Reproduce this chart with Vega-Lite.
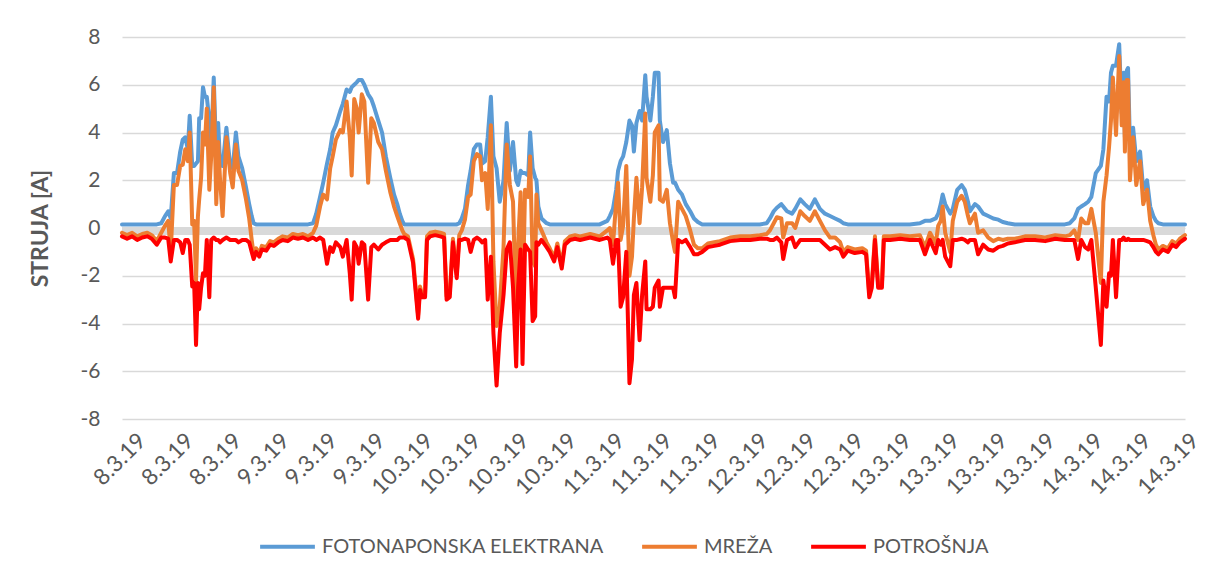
{
"$schema": "https://vega.github.io/schema/vega-lite/v6.json",
"width": 1063, "height": 382,
"autosize": {"type": "none"},
"padding": {"left": 122, "top": 37, "right": 44, "bottom": 160},
"background": "white",
"config": {"view": {"stroke": null}, "font": "Lato",
 "axisY": {"grid": true, "gridColor": "#d9d9d9", "gridWidth": 1.3, "domain": false, "ticks": false, "labelFontSize": 21, "labelColor": "#595959", "labelPadding": 22},
 "axisX": {"grid": false, "domain": false, "ticks": false, "labelFontSize": 22.5, "labelColor": "#595959", "labelAngle": -45, "labelPadding": 10, "labelOffset": 12, "labelOverlap": false, "labelFlush": false, "labelBound": false}
},
"datasets": {"d": [
{"h":0,"fe":0.15,"mr":-0.2,"po":-0.35},
{"h":0.8,"fe":0.15,"mr":-0.3,"po":-0.45},
{"h":1.6,"fe":0.15,"mr":-0.2,"po":-0.35},
{"h":2.4,"fe":0.15,"mr":-0.35,"po":-0.5},
{"h":3.2,"fe":0.15,"mr":-0.25,"po":-0.4},
{"h":4.0,"fe":0.15,"mr":-0.2,"po":-0.35},
{"h":4.7,"fe":0.15,"mr":-0.3,"po":-0.45},
{"h":5.5,"fe":0.15,"mr":-0.55,"po":-0.7},
{"h":6.2,"fe":0.2,"mr":-0.2,"po":-0.4},
{"h":6.8,"fe":0.5,"mr":0.1,"po":-0.4},
{"h":7.3,"fe":0.7,"mr":0.3,"po":-0.45},
{"h":7.7,"fe":0.4,"mr":-1.0,"po":-1.4},
{"h":8.2,"fe":2.3,"mr":1.8,"po":-0.5},
{"h":8.7,"fe":2.3,"mr":1.8,"po":-0.5},
{"h":9.2,"fe":3.2,"mr":2.6,"po":-0.6},
{"h":9.6,"fe":3.7,"mr":2.65,"po":-1.05},
{"h":10.0,"fe":3.8,"mr":3.3,"po":-0.5},
{"h":10.4,"fe":3.3,"mr":2.8,"po":-0.5},
{"h":10.7,"fe":4.7,"mr":4.0,"po":-0.7},
{"h":11.1,"fe":2.6,"mr":0.15,"po":-2.45},
{"h":11.4,"fe":2.6,"mr":0.3,"po":-2.3},
{"h":11.7,"fe":2.7,"mr":-2.2,"po":-4.9},
{"h":12.0,"fe":2.8,"mr":0.5,"po":-2.3},
{"h":12.2,"fe":4.6,"mr":1.2,"po":-3.4},
{"h":12.5,"fe":4.6,"mr":2.1,"po":-2.5},
{"h":12.8,"fe":5.9,"mr":4.0,"po":-1.9},
{"h":13.1,"fe":5.5,"mr":3.5,"po":-2.0},
{"h":13.4,"fe":5.5,"mr":5.0,"po":-0.5},
{"h":13.8,"fe":4.5,"mr":1.6,"po":-2.9},
{"h":14.1,"fe":3.5,"mr":3.0,"po":-0.5},
{"h":14.5,"fe":6.3,"mr":5.9,"po":-0.4},
{"h":14.9,"fe":2.9,"mr":1.0,"po":-0.5},
{"h":15.2,"fe":4.4,"mr":3.6,"po":-0.5},
{"h":15.5,"fe":2.7,"mr":2.0,"po":-0.6},
{"h":15.9,"fe":2.6,"mr":0.5,"po":-0.5},
{"h":16.5,"fe":4.2,"mr":3.8,"po":-0.4},
{"h":17.1,"fe":2.6,"mr":2.3,"po":-0.5},
{"h":17.5,"fe":2.5,"mr":1.7,"po":-0.5},
{"h":18.0,"fe":4.0,"mr":3.5,"po":-0.5},
{"h":18.4,"fe":3.0,"mr":2.4,"po":-0.6},
{"h":19.0,"fe":2.5,"mr":2.0,"po":-0.5},
{"h":19.6,"fe":1.7,"mr":1.2,"po":-0.5},
{"h":20.1,"fe":1.0,"mr":0.4,"po":-0.6},
{"h":20.5,"fe":0.5,"mr":-0.5,"po":-1.0},
{"h":20.8,"fe":0.2,"mr":-1.1,"po":-1.3},
{"h":21.2,"fe":0.15,"mr":-0.85,"po":-1.0},
{"h":21.7,"fe":0.15,"mr":-1.05,"po":-1.2},
{"h":22.1,"fe":0.15,"mr":-0.75,"po":-0.9},
{"h":22.8,"fe":0.15,"mr":-0.8,"po":-0.95},
{"h":23.4,"fe":0.15,"mr":-0.55,"po":-0.7},
{"h":24.0,"fe":0.15,"mr":-0.6,"po":-0.75},
{"h":24.7,"fe":0.15,"mr":-0.45,"po":-0.6},
{"h":25.4,"fe":0.15,"mr":-0.35,"po":-0.5},
{"h":26.2,"fe":0.15,"mr":-0.4,"po":-0.55},
{"h":27.0,"fe":0.15,"mr":-0.25,"po":-0.4},
{"h":27.8,"fe":0.15,"mr":-0.3,"po":-0.45},
{"h":28.6,"fe":0.15,"mr":-0.25,"po":-0.4},
{"h":29.4,"fe":0.15,"mr":-0.35,"po":-0.5},
{"h":30.2,"fe":0.2,"mr":-0.2,"po":-0.4},
{"h":30.7,"fe":0.6,"mr":0.1,"po":-0.5},
{"h":31.3,"fe":1.3,"mr":0.9,"po":-0.4},
{"h":31.8,"fe":1.9,"mr":1.4,"po":-0.5},
{"h":32.4,"fe":2.7,"mr":1.2,"po":-1.5},
{"h":32.9,"fe":3.3,"mr":2.5,"po":-0.8},
{"h":33.3,"fe":4.0,"mr":3.0,"po":-1.0},
{"h":33.8,"fe":4.3,"mr":3.7,"po":-0.6},
{"h":34.5,"fe":4.9,"mr":4.1,"po":-0.8},
{"h":34.9,"fe":5.2,"mr":4.0,"po":-1.2},
{"h":35.5,"fe":5.8,"mr":5.3,"po":-0.5},
{"h":36.0,"fe":5.7,"mr":3.8,"po":-1.9},
{"h":36.3,"fe":5.9,"mr":2.2,"po":-3.0},
{"h":36.7,"fe":6.0,"mr":5.4,"po":-0.6},
{"h":37.1,"fe":6.1,"mr":5.0,"po":-0.8},
{"h":37.4,"fe":6.2,"mr":4.0,"po":-1.5},
{"h":37.9,"fe":6.2,"mr":5.6,"po":-0.6},
{"h":38.3,"fe":6.0,"mr":5.3,"po":-0.7},
{"h":38.9,"fe":5.6,"mr":1.9,"po":-3.0},
{"h":39.4,"fe":5.4,"mr":4.6,"po":-0.8},
{"h":39.8,"fe":5.1,"mr":4.4,"po":-0.7},
{"h":40.5,"fe":4.5,"mr":3.6,"po":-0.9},
{"h":41.1,"fe":4.0,"mr":3.3,"po":-0.7},
{"h":41.7,"fe":3.0,"mr":2.4,"po":-0.6},
{"h":42.4,"fe":2.1,"mr":1.5,"po":-0.5},
{"h":43.0,"fe":1.4,"mr":0.9,"po":-0.5},
{"h":43.5,"fe":1.0,"mr":0.5,"po":-0.5},
{"h":43.9,"fe":0.6,"mr":0.2,"po":-0.4},
{"h":44.3,"fe":0.3,"mr":-0.1,"po":-0.4},
{"h":44.6,"fe":0.15,"mr":-0.25,"po":-0.4},
{"h":45.2,"fe":0.15,"mr":-0.35,"po":-0.5},
{"h":46.0,"fe":0.15,"mr":-1.3,"po":-1.45},
{"h":46.8,"fe":0.15,"mr":-3.65,"po":-3.8},
{"h":47.1,"fe":0.15,"mr":-2.45,"po":-2.6},
{"h":47.4,"fe":0.15,"mr":-2.75,"po":-2.9},
{"h":47.9,"fe":0.15,"mr":-2.75,"po":-2.9},
{"h":48.2,"fe":0.15,"mr":-0.35,"po":-0.5},
{"h":48.7,"fe":0.15,"mr":-0.2,"po":-0.35},
{"h":49.5,"fe":0.15,"mr":-0.15,"po":-0.3},
{"h":50.3,"fe":0.15,"mr":-0.2,"po":-0.35},
{"h":50.9,"fe":0.15,"mr":-0.25,"po":-0.4},
{"h":51.3,"fe":0.15,"mr":-2.85,"po":-3.0},
{"h":51.8,"fe":0.15,"mr":-2.75,"po":-2.9},
{"h":52.3,"fe":0.15,"mr":-0.45,"po":-0.6},
{"h":52.9,"fe":0.15,"mr":-1.95,"po":-2.1},
{"h":53.3,"fe":0.2,"mr":-0.3,"po":-0.5},
{"h":53.7,"fe":0.4,"mr":-0.1,"po":-0.5},
{"h":54.2,"fe":0.8,"mr":0.35,"po":-0.45},
{"h":54.7,"fe":1.8,"mr":1.3,"po":-0.5},
{"h":55.1,"fe":2.4,"mr":1.4,"po":-1.0},
{"h":55.6,"fe":3.3,"mr":2.8,"po":-0.5},
{"h":56.1,"fe":3.5,"mr":3.1,"po":-0.4},
{"h":56.6,"fe":3.5,"mr":3.0,"po":-0.5},
{"h":56.9,"fe":2.7,"mr":2.0,"po":-0.6},
{"h":57.4,"fe":2.8,"mr":2.3,"po":-0.5},
{"h":57.8,"fe":3.8,"mr":0.8,"po":-3.0},
{"h":58.3,"fe":5.5,"mr":4.3,"po":-1.2},
{"h":58.7,"fe":3.0,"mr":-1.4,"po":-4.4},
{"h":59.2,"fe":2.5,"mr":-4.1,"po":-6.6},
{"h":59.7,"fe":1.1,"mr":-3.3,"po":-4.4},
{"h":60.3,"fe":2.0,"mr":-0.8,"po":-2.8},
{"h":60.8,"fe":4.4,"mr":3.5,"po":-0.9},
{"h":61.3,"fe":2.4,"mr":1.8,"po":-0.6},
{"h":61.8,"fe":3.6,"mr":1.1,"po":-2.5},
{"h":62.3,"fe":2.0,"mr":-3.8,"po":-5.8},
{"h":62.6,"fe":1.8,"mr":-0.7,"po":-2.5},
{"h":63.0,"fe":2.4,"mr":1.5,"po":-0.9},
{"h":63.3,"fe":2.3,"mr":-3.4,"po":-5.7},
{"h":63.7,"fe":2.3,"mr":1.6,"po":-0.7},
{"h":64.2,"fe":2.2,"mr":1.3,"po":-0.9},
{"h":64.5,"fe":4.0,"mr":3.0,"po":-1.0},
{"h":64.9,"fe":2.5,"mr":-1.4,"po":-3.9},
{"h":65.3,"fe":2.1,"mr":-1.6,"po":-3.7},
{"h":65.5,"fe":2.0,"mr":1.4,"po":-0.6},
{"h":65.8,"fe":0.9,"mr":0.2,"po":-0.7},
{"h":66.3,"fe":0.4,"mr":-0.1,"po":-0.5},
{"h":67.1,"fe":0.2,"mr":-0.6,"po":-0.8},
{"h":67.6,"fe":0.15,"mr":-0.85,"po":-1.0},
{"h":68.3,"fe":0.15,"mr":-1.25,"po":-1.4},
{"h":68.8,"fe":0.15,"mr":-0.65,"po":-0.8},
{"h":69.5,"fe":0.15,"mr":-1.55,"po":-1.7},
{"h":70.0,"fe":0.15,"mr":-0.55,"po":-0.7},
{"h":70.8,"fe":0.15,"mr":-0.35,"po":-0.5},
{"h":71.6,"fe":0.15,"mr":-0.3,"po":-0.45},
{"h":72.4,"fe":0.15,"mr":-0.35,"po":-0.5},
{"h":74.0,"fe":0.15,"mr":-0.25,"po":-0.4},
{"h":75.5,"fe":0.15,"mr":-0.35,"po":-0.5},
{"h":76.7,"fe":0.3,"mr":-0.1,"po":-0.4},
{"h":77.1,"fe":0.5,"mr":0.0,"po":-0.5},
{"h":77.6,"fe":0.8,"mr":-0.7,"po":-1.5},
{"h":78.1,"fe":1.6,"mr":1.1,"po":-0.5},
{"h":78.4,"fe":2.4,"mr":1.9,"po":-0.5},
{"h":78.8,"fe":2.8,"mr":-0.5,"po":-3.3},
{"h":79.2,"fe":3.0,"mr":0.1,"po":-2.9},
{"h":79.7,"fe":3.6,"mr":2.6,"po":-1.0},
{"h":80.2,"fe":4.5,"mr":-2.0,"po":-6.5},
{"h":80.6,"fe":4.3,"mr":-1.2,"po":-5.5},
{"h":80.9,"fe":3.2,"mr":0.4,"po":-2.8},
{"h":81.3,"fe":4.4,"mr":2.1,"po":-2.3},
{"h":81.8,"fe":4.9,"mr":0.2,"po":-4.7},
{"h":82.2,"fe":4.5,"mr":1.7,"po":-2.8},
{"h":82.7,"fe":6.4,"mr":4.8,"po":-1.4},
{"h":82.9,"fe":5.5,"mr":2.1,"po":-3.4},
{"h":83.5,"fe":4.5,"mr":1.1,"po":-3.4},
{"h":83.9,"fe":5.5,"mr":2.2,"po":-3.3},
{"h":84.2,"fe":6.5,"mr":4.0,"po":-2.5},
{"h":84.8,"fe":6.5,"mr":4.3,"po":-2.2},
{"h":85.0,"fe":4.5,"mr":1.2,"po":-3.3},
{"h":85.5,"fe":3.6,"mr":1.1,"po":-2.5},
{"h":86.1,"fe":4.1,"mr":1.6,"po":-2.5},
{"h":86.6,"fe":2.7,"mr":0.2,"po":-2.5},
{"h":87.1,"fe":1.9,"mr":-0.6,"po":-2.5},
{"h":87.4,"fe":1.9,"mr":-1.0,"po":-2.9},
{"h":87.9,"fe":1.6,"mr":1.1,"po":-0.5},
{"h":88.5,"fe":1.4,"mr":0.8,"po":-0.6},
{"h":89.1,"fe":1.0,"mr":0.5,"po":-0.5},
{"h":89.8,"fe":0.7,"mr":-0.1,"po":-0.8},
{"h":90.4,"fe":0.4,"mr":-0.7,"po":-1.1},
{"h":91.0,"fe":0.25,"mr":-0.85,"po":-1.1},
{"h":91.7,"fe":0.15,"mr":-0.85,"po":-1.0},
{"h":92.6,"fe":0.15,"mr":-0.65,"po":-0.8},
{"h":93.6,"fe":0.15,"mr":-0.6,"po":-0.75},
{"h":94.5,"fe":0.15,"mr":-0.55,"po":-0.7},
{"h":96.1,"fe":0.15,"mr":-0.4,"po":-0.55},
{"h":97.7,"fe":0.15,"mr":-0.35,"po":-0.5},
{"h":99.3,"fe":0.15,"mr":-0.35,"po":-0.5},
{"h":100.8,"fe":0.15,"mr":-0.3,"po":-0.45},
{"h":101.9,"fe":0.2,"mr":-0.25,"po":-0.45},
{"h":102.4,"fe":0.4,"mr":-0.1,"po":-0.5},
{"h":103.0,"fe":0.7,"mr":0.2,"po":-0.5},
{"h":103.5,"fe":0.85,"mr":0.45,"po":-0.4},
{"h":104.2,"fe":1.0,"mr":0.4,"po":-0.6},
{"h":104.5,"fe":0.9,"mr":-0.4,"po":-1.3},
{"h":105.1,"fe":0.7,"mr":0.2,"po":-0.5},
{"h":105.9,"fe":0.6,"mr":0.2,"po":-0.4},
{"h":106.4,"fe":0.8,"mr":0.0,"po":-0.8},
{"h":107.2,"fe":1.2,"mr":0.7,"po":-0.5},
{"h":107.9,"fe":1.0,"mr":0.5,"po":-0.5},
{"h":108.7,"fe":0.8,"mr":0.3,"po":-0.5},
{"h":109.5,"fe":1.2,"mr":0.7,"po":-0.5},
{"h":110.3,"fe":0.8,"mr":0.3,"po":-0.5},
{"h":111.1,"fe":0.6,"mr":-0.1,"po":-0.7},
{"h":111.9,"fe":0.5,"mr":-0.4,"po":-0.9},
{"h":112.7,"fe":0.4,"mr":-0.4,"po":-0.8},
{"h":113.5,"fe":0.3,"mr":-0.6,"po":-0.9},
{"h":114.0,"fe":0.2,"mr":-1.0,"po":-1.2},
{"h":114.7,"fe":0.15,"mr":-0.8,"po":-0.95},
{"h":115.8,"fe":0.15,"mr":-0.9,"po":-1.05},
{"h":117.0,"fe":0.15,"mr":-0.85,"po":-1.0},
{"h":117.6,"fe":0.15,"mr":-0.95,"po":-1.1},
{"h":118.1,"fe":0.15,"mr":-2.75,"po":-2.9},
{"h":118.5,"fe":0.15,"mr":-2.35,"po":-2.5},
{"h":119.0,"fe":0.15,"mr":-0.35,"po":-0.5},
{"h":119.5,"fe":0.15,"mr":-2.35,"po":-2.5},
{"h":120.1,"fe":0.15,"mr":-2.35,"po":-2.5},
{"h":120.4,"fe":0.15,"mr":-0.35,"po":-0.5},
{"h":121.4,"fe":0.15,"mr":-0.35,"po":-0.5},
{"h":123.0,"fe":0.15,"mr":-0.3,"po":-0.45},
{"h":124.5,"fe":0.15,"mr":-0.35,"po":-0.5},
{"h":126.1,"fe":0.2,"mr":-0.3,"po":-0.5},
{"h":126.9,"fe":0.3,"mr":-0.8,"po":-1.1},
{"h":127.7,"fe":0.3,"mr":-0.2,"po":-0.5},
{"h":128.6,"fe":0.4,"mr":-0.65,"po":-1.05},
{"h":129.0,"fe":0.6,"mr":0.1,"po":-0.5},
{"h":129.4,"fe":1.0,"mr":0.3,"po":-0.7},
{"h":129.7,"fe":1.4,"mr":0.9,"po":-0.5},
{"h":130.1,"fe":1.0,"mr":-0.2,"po":-1.2},
{"h":130.9,"fe":0.6,"mr":-1.0,"po":-1.6},
{"h":131.3,"fe":0.8,"mr":0.3,"po":-0.5},
{"h":132.0,"fe":1.6,"mr":1.1,"po":-0.5},
{"h":132.7,"fe":1.8,"mr":1.35,"po":-0.45},
{"h":133.2,"fe":1.6,"mr":1.1,"po":-0.5},
{"h":133.7,"fe":1.1,"mr":0.5,"po":-0.6},
{"h":134.0,"fe":0.7,"mr":0.2,"po":-0.5},
{"h":134.8,"fe":1.0,"mr":0.6,"po":-0.5},
{"h":135.3,"fe":0.9,"mr":-0.2,"po":-1.1},
{"h":136.1,"fe":0.6,"mr":-0.1,"po":-0.7},
{"h":136.9,"fe":0.5,"mr":-0.4,"po":-0.9},
{"h":137.7,"fe":0.4,"mr":-0.55,"po":-0.95},
{"h":138.5,"fe":0.35,"mr":-0.45,"po":-0.8},
{"h":139.2,"fe":0.25,"mr":-0.5,"po":-0.75},
{"h":140.0,"fe":0.2,"mr":-0.45,"po":-0.65},
{"h":141.1,"fe":0.15,"mr":-0.45,"po":-0.6},
{"h":142.7,"fe":0.15,"mr":-0.35,"po":-0.5},
{"h":144.3,"fe":0.15,"mr":-0.35,"po":-0.5},
{"h":145.9,"fe":0.15,"mr":-0.4,"po":-0.55},
{"h":147.5,"fe":0.15,"mr":-0.3,"po":-0.45},
{"h":149.0,"fe":0.15,"mr":-0.35,"po":-0.5},
{"h":149.8,"fe":0.2,"mr":-0.3,"po":-0.5},
{"h":150.5,"fe":0.4,"mr":-0.1,"po":-0.5},
{"h":151.1,"fe":0.8,"mr":-0.5,"po":-1.3},
{"h":151.6,"fe":0.9,"mr":0.4,"po":-0.5},
{"h":152.2,"fe":1.0,"mr":0.2,"po":-0.8},
{"h":152.7,"fe":1.1,"mr":0.2,"po":-0.9},
{"h":153.2,"fe":1.3,"mr":0.8,"po":-0.5},
{"h":153.9,"fe":2.3,"mr":-0.2,"po":-2.5},
{"h":154.7,"fe":2.6,"mr":-2.3,"po":-4.9},
{"h":155.1,"fe":3.3,"mr":1.1,"po":-2.2},
{"h":155.6,"fe":5.5,"mr":2.2,"po":-3.3},
{"h":156.0,"fe":5.3,"mr":3.4,"po":-1.9},
{"h":156.3,"fe":6.5,"mr":4.5,"po":-2.0},
{"h":156.6,"fe":6.8,"mr":6.3,"po":-0.5},
{"h":157.1,"fe":6.8,"mr":3.9,"po":-2.9},
{"h":157.6,"fe":7.7,"mr":7.2,"po":-0.5},
{"h":158.0,"fe":4.8,"mr":4.3,"po":-0.5},
{"h":158.3,"fe":6.5,"mr":6.1,"po":-0.4},
{"h":158.5,"fe":3.8,"mr":3.2,"po":-0.5},
{"h":158.8,"fe":6.6,"mr":6.2,"po":-0.5},
{"h":159.0,"fe":6.7,"mr":6.2,"po":-0.45},
{"h":159.3,"fe":3.5,"mr":2.0,"po":-0.5},
{"h":159.8,"fe":4.2,"mr":3.8,"po":-0.5},
{"h":160.3,"fe":2.8,"mr":1.8,"po":-0.5},
{"h":160.9,"fe":3.2,"mr":2.8,"po":-0.5},
{"h":161.4,"fe":1.6,"mr":1.0,"po":-0.5},
{"h":162.0,"fe":2.0,"mr":1.6,"po":-0.55},
{"h":162.5,"fe":0.9,"mr":0.3,"po":-0.6},
{"h":163.0,"fe":0.5,"mr":-0.3,"po":-0.8},
{"h":163.4,"fe":0.3,"mr":-0.7,"po":-1.0},
{"h":163.8,"fe":0.2,"mr":-0.9,"po":-1.1},
{"h":164.5,"fe":0.15,"mr":-0.75,"po":-0.9},
{"h":165.3,"fe":0.15,"mr":-0.85,"po":-1.0},
{"h":166.0,"fe":0.15,"mr":-0.55,"po":-0.7},
{"h":166.6,"fe":0.15,"mr":-0.65,"po":-0.8},
{"h":167.2,"fe":0.15,"mr":-0.45,"po":-0.6},
{"h":168.0,"fe":0.15,"mr":-0.3,"po":-0.45}
]},
"layer": [
 {"data": {"values": [{"v": 0}]},
  "mark": {"type": "rule", "color": "#d9d9d9", "strokeWidth": 8, "yOffset": 3},
  "encoding": {"y": {"field": "v", "type": "quantitative", "scale": {"domain": [-8, 8], "nice": false},
    "axis": {"values": [-8,-6,-4,-2,0,2,4,6,8], "labelExpr": "'' + datum.value", "title": "STRUJA [A]", "titleFontSize": 23, "titleFontWeight": "bold", "titleColor": "#595959", "titleX": -82, "titleY": 191, "titleAngle": -90, "titleAlign": "center", "titleBaseline": "middle"}}}},
 {"data": {"name": "d"},
  "mark": {"type": "line", "strokeWidth": 4, "strokeJoin": "round", "strokeCap": "round"},
  "encoding": {
   "x": {"field": "h", "type": "quantitative", "scale": {"domain": [0, 168], "nice": false, "zero": false}, "axis": {"title": null, "values": [0,7.565,15.13,22.695,30.26,37.825,45.39,52.955,60.52,68.085,75.65,83.215,90.78,98.345,105.91,113.475,121.04,128.605,136.17,143.735,151.3,158.865,166.43], "labelExpr": "['8.3.19','8.3.19','8.3.19','9.3.19','9.3.19','9.3.19','10.3.19','10.3.19','10.3.19','10.3.19','11.3.19','11.3.19','11.3.19','12.3.19','12.3.19','12.3.19','13.3.19','13.3.19','13.3.19','13.3.19','14.3.19','14.3.19','14.3.19'][round(datum.value/7.565)]"}},
   "y": {"field": "fe", "type": "quantitative", "title": "STRUJA [A]"},
   "color": {"datum": "FOTONAPONSKA ELEKTRANA", "type": "nominal",
     "scale": {"domain": ["FOTONAPONSKA ELEKTRANA", "MREŽA", "POTROŠNJA"], "range": ["#5B9BD5", "#ED7D31", "#FF0000"]},
     "legend": {"orient": "none", "legendX": 136, "legendY": 480, "direction": "horizontal", "title": null, "symbolType": "stroke", "symbolSize": 3000, "symbolStrokeWidth": 4, "labelFontSize": 20, "labelColor": "#595959", "labelLimit": 0, "columnPadding": 30, "labelOffset": 5}}}},
 {"data": {"name": "d"},
  "mark": {"type": "line", "strokeWidth": 4, "strokeJoin": "round", "strokeCap": "round"},
  "encoding": {
   "x": {"field": "h", "type": "quantitative"},
   "y": {"field": "mr", "type": "quantitative", "title": "STRUJA [A]"},
   "color": {"datum": "MREŽA", "type": "nominal"}}},
 {"data": {"name": "d"},
  "mark": {"type": "line", "strokeWidth": 4, "strokeJoin": "round", "strokeCap": "round"},
  "encoding": {
   "x": {"field": "h", "type": "quantitative"},
   "y": {"field": "po", "type": "quantitative", "title": "STRUJA [A]"},
   "color": {"datum": "POTROŠNJA", "type": "nominal"}}}
]
}
